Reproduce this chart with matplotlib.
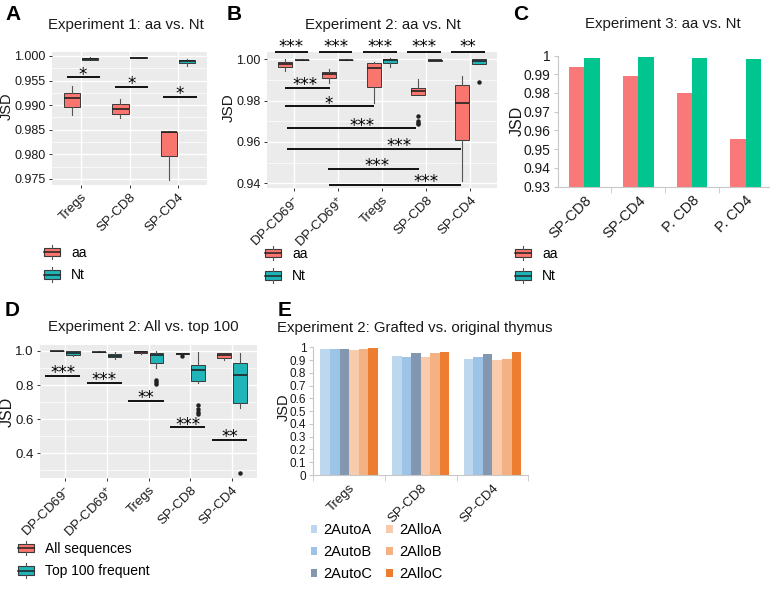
import matplotlib
matplotlib.use('Agg')
import matplotlib.pyplot as plt
from matplotlib.patches import Rectangle, Patch
from matplotlib.lines import Line2D
from matplotlib.legend_handler import HandlerBase
import numpy as np

plt.rcParams['font.family'] = ['Liberation Sans', 'DejaVu Sans']
plt.rcParams['mathtext.fontset'] = 'custom'
plt.rcParams['mathtext.rm'] = 'Liberation Sans'
plt.rcParams['mathtext.it'] = 'Liberation Sans'

# ---------------- data ----------------
# Panel A  (box stats: whislo, q1, median, q3, whishi)
a_cats = ['Tregs', 'SP-CD8', 'SP-CD4']
a_aa = [[0.9880, 0.98963, 0.99139, 0.99254, 0.9939],
        [0.98746, 0.98827, 0.98922, 0.99017, 0.99125],
        [0.97478, 0.97959, 0.98447, 0.98461, 0.98475]]
a_nt = [[0.9991, 0.9992, 0.9994, 0.9996, 0.9997],
        [0.9995, 0.99955, 0.9996, 0.99975, 0.9998],
        [0.99803, 0.99851, 0.99891, 0.99919, 0.9994]]
a_sig_y = [0.99566, 0.99376, 0.99166]
a_sig_lab = ['*', '*', '*']
a_yticks = [0.975, 0.980, 0.985, 0.990, 0.995, 1.000]
a_yticklabels = ['0.975', '0.980', '0.985', '0.990', '0.955', '1.000']

# Panel B
b_cats = ['DP-CD69$^{-}$', 'DP-CD69$^{+}$', 'Tregs', 'SP-CD8', 'SP-CD4']
b_aa = [[0.99452, 0.99613, 0.99758, 0.99887, 1.0003],
        [0.98855, 0.99097, 0.99274, 0.99371, 0.99532],
        [0.97871, 0.98677, 0.99565, 0.99806, 0.99887],
        [0.98258, 0.98258, 0.98452, 0.98597, 0.99065],
        [0.94113, 0.96097, 0.97871, 0.98758, 0.99194]]
b_aa_fliers = [[], [], [], [0.9726, 0.9703, 0.9694, 0.9687], []]
b_nt = [[0.9995, 0.99955, 0.9997, 0.99985, 0.9999],
        [0.9997, 0.99975, 0.9998, 0.99985, 0.9999],
        [0.99613, 0.99823, 0.99952, 1.0002, 1.0005],
        [0.9991, 0.9993, 0.9995, 0.9996, 0.9997],
        [0.99758, 0.9979, 0.99903, 1.0000, 1.0002]]
b_nt_fliers = [[], [], [], [], [0.98887]]
b_top_sig_y = 1.0034
b_top_sig_lab = ['***', '***', '***', '***', '**']
b_pair_y = [0.98597, 0.97726, 0.96661, 0.95677, 0.94710, 0.9392]
b_pair_x = [(0.81, 1.82), (0.81, 2.83), (0.86, 3.77), (0.86, 4.79), (1.78, 3.84), (1.80, 4.79)]
b_pair_star_x = [1.27, 1.80, 2.55, 3.38, 2.89, 3.99]
b_pair_lab = ['***', '*', '***', '***', '***', '***']
b_yticks = [0.94, 0.96, 0.98, 1.00]

# Panel C
c_cats = ['SP-CD8', 'SP-CD4', 'P. CD8', 'P. CD4']
c_aa = [0.9939, 0.9891, 0.9800, 0.9552]
c_nt = [0.9988, 0.9993, 0.9984, 0.9979]
c_yticks = [0.93, 0.94, 0.95, 0.96, 0.97, 0.98, 0.99, 1.0]
c_yticklabels = ['0.93', '0.94', '0.95', '0.96', '0.97', '0.98', '0.99', '1']

# Panel D
d_cats = b_cats
d_all = [[0.9975, 0.998, 0.9985, 0.999, 0.9995],
         [0.995, 0.9955, 0.996, 0.9965, 0.997],
         [0.9807, 0.987, 0.994, 0.998, 1.0],
         [0.975, 0.9805, 0.985, 0.988, 0.990],
         [0.945, 0.961, 0.9766, 0.986, 0.990]]
d_all_fliers = [[], [], [], [0.968], []]
d_top = [[0.9727, 0.9786, 0.990, 0.999, 1.0],
         [0.953, 0.963, 0.9727, 0.9825, 0.992],
         [0.8986, 0.932, 0.9747, 0.990, 1.0],
         [0.811, 0.8265, 0.889, 0.918, 0.996],
         [0.665, 0.694, 0.858, 0.932, 0.986]]
d_top_fliers = [[], [], [0.830, 0.8187, 0.807], [0.684, 0.659, 0.645, 0.632], [0.287]]
d_sig_y = [0.854, 0.815, 0.708, 0.552, 0.480]
d_sig_lab = ['***', '***', '**', '***', '**']
d_yticks = [0.4, 0.6, 0.8, 1.0]

# Panel E
e_cats = ['Tregs', 'SP-CD8', 'SP-CD4']
e_series = ['2AutoA', '2AutoB', '2AutoC', '2AlloA', '2AlloB', '2AlloC']
e_autoA = [0.986, 0.932, 0.909]
e_autoB = [0.984, 0.927, 0.923]
e_autoC = [0.986, 0.955, 0.947]
e_alloA = [0.982, 0.927, 0.903]
e_alloB = [0.986, 0.955, 0.905]
e_alloC = [0.991, 0.962, 0.965]
e_yticks = [0, 0.1, 0.2, 0.3, 0.4, 0.5, 0.6, 0.7, 0.8, 0.9, 1.0]
e_yticklabels = ['0', '0.1', '0.2', '0.3', '0.4', '0.5', '0.6', '0.7', '0.8', '0.9', '1']

# ---------------- styling ----------------
RED = '#F8766D'
TEAL = '#1FB5B8'
C_RED = '#F9797A'
C_GREEN = '#00C58E'
E_COLORS = ['#BDD7EE', '#9DC3E6', '#8497B0', '#F8CBAD', '#F4B183', '#ED7D31']
TXT = '#1a1a1a'

W, H = 770, 594
fig = plt.figure(figsize=(W / 100, H / 100), dpi=100)


def add_ax(l, t, r, b):
    return fig.add_axes([l / W, 1 - b / H, (r - l) / W, (b - t) / H])


def fx(px):
    return px / W


def fy(py):
    return 1 - py / H


def gg_style(ax, xlim, ylim, yticks, yticklabels, yminor, ncat, catlabels, ysize=9.5):
    ax.set_facecolor('#EBEBEB')
    for s in ax.spines.values():
        s.set_visible(False)
    ax.set_xlim(*xlim)
    ax.set_ylim(*ylim)
    ax.set_yticks(yticks)
    ax.set_yticklabels(yticklabels)
    ax.set_yticks(yminor, minor=True)
    ax.set_xticks(np.arange(1, ncat + 1))
    ax.set_xticklabels(catlabels, rotation=45, ha='right', va='top', rotation_mode='anchor')
    ax.grid(which='major', color='white', lw=1.0)
    ax.grid(which='minor', axis='y', color='white', lw=0.5)
    ax.set_axisbelow(True)
    ax.tick_params(which='minor', length=0)
    ax.tick_params(which='major', length=2.5, width=0.7, color='#333333', labelsize=9.5,
                   labelcolor=TXT, pad=2)
    ax.tick_params(axis='y', which='major', labelsize=ysize)


def draw_boxes(ax, stats, fliers, positions, width, color):
    st = []
    for s, f in zip(stats, fliers):
        st.append(dict(whislo=s[0], q1=s[1], med=s[2], q3=s[3], whishi=s[4], fliers=f))
    ax.bxp(st, positions=positions, widths=width, patch_artist=True, showcaps=False,
           boxprops=dict(facecolor=color, edgecolor='#3a3a3a', lw=0.7),
           medianprops=dict(color='#222222', lw=1.2),
           whiskerprops=dict(color='#555555', lw=0.8),
           flierprops=dict(marker='o', markersize=2.2, markerfacecolor='#222222',
                           markeredgecolor='#222222'),
           manage_ticks=False)


def sig(ax, x0, x1, y, lab, xs=None, clip=True, off=-4.5):
    ax.plot([x0, x1], [y, y], color='black', lw=1.3, clip_on=clip, solid_capstyle='butt')
    if xs is None:
        xs = (x0 + x1) / 2
    ax.annotate(lab, (xs, y), xytext=(0, off), textcoords='offset points', ha='center',
                va='bottom', fontsize=12, color='black', annotation_clip=False,
                family='DejaVu Sans')


class BoxKey(HandlerBase):
    def create_artists(self, legend, orig_handle, xdescent, ydescent, width, height,
                       fontsize, trans):
        fc = orig_handle.get_facecolor()
        x0, y0 = -xdescent, -ydescent
        cx = x0 + width / 2
        box = Rectangle((x0, y0 + height * 0.2), width, height * 0.6, facecolor=fc,
                        edgecolor='#3a3a3a', lw=0.8, transform=trans)
        med = Line2D([x0, x0 + width], [y0 + height / 2] * 2, color='#222222', lw=1.1,
                     transform=trans)
        w1 = Line2D([cx, cx], [y0, y0 + height * 0.2], color='#555555', lw=0.8, transform=trans)
        w2 = Line2D([cx, cx], [y0 + height * 0.8, y0 + height], color='#555555', lw=0.8,
                    transform=trans)
        return [box, med, w1, w2]


def box_legend(labels, colors, x, y, fs=10):
    handles = [Patch(facecolor=c) for c in colors]
    fig.legend(handles, labels, loc='upper left', bbox_to_anchor=(fx(x), fy(y)),
               bbox_transform=fig.transFigure, frameon=False, fontsize=fs,
               handler_map={Patch: BoxKey()}, handlelength=1.15, handleheight=1.2,
               labelspacing=0.55, handletextpad=0.8, borderpad=0, borderaxespad=0)


# ---------------- Panel A ----------------
axA = add_ax(52, 52, 207, 185)
gg_style(axA, (0.4, 3.6), (0.97378, 1.0008), a_yticks, a_yticklabels,
         [0.9775, 0.9825, 0.9875, 0.9925, 0.9975], 3, a_cats, ysize=9)
xA = np.arange(1, 4)
draw_boxes(axA, a_aa, [[]] * 3, xA - 0.1875, 0.34, RED)
draw_boxes(axA, a_nt, [[]] * 3, xA + 0.1875, 0.34, TEAL)
for i in range(3):
    sig(axA, xA[i] - 0.3, xA[i] + 0.39, a_sig_y[i], a_sig_lab[i], xs=xA[i] + 0.04)
axA.set_ylabel('JSD', fontsize=10.5, color=TXT)
axA.yaxis.set_label_coords((14 - 52) / 155, 0.59)

# ---------------- Panel B ----------------
axB = add_ax(267, 52, 497, 188)
gg_style(axB, (0.4, 5.6), (0.93773, 1.0035), b_yticks, ['0.94', '0.96', '0.98', '1.00'],
         [0.95, 0.97, 0.99], 5, b_cats, ysize=9)
xB = np.arange(1, 6)
draw_boxes(axB, b_aa, b_aa_fliers, xB - 0.19, 0.32, RED)
draw_boxes(axB, b_nt, b_nt_fliers, xB + 0.19, 0.32, TEAL)
for i in range(5):
    sig(axB, xB[i] - 0.43, xB[i] + 0.33, b_top_sig_y, b_top_sig_lab[i], xs=xB[i] - 0.05,
        clip=False, off=-2.5)
for (x0, x1), y, sx, lab in zip(b_pair_x, b_pair_y, b_pair_star_x, b_pair_lab):
    sig(axB, x0, x1, y, lab, xs=sx)
axB.set_ylabel('JSD', fontsize=11, color=TXT)
axB.yaxis.set_label_coords((236 - 267) / 230, 0.59)

# ---------------- Panel C ----------------
axC = add_ax(557.5, 55.5, 772.6, 186.7)
xC = np.arange(1, 5)
axC.bar(xC - 0.143, c_aa, width=0.286, color=C_RED)
axC.bar(xC + 0.143, c_nt, width=0.286, color=C_GREEN)
axC.set_xlim(0.5, 4.5)
axC.set_ylim(0.93, 1.0)
axC.set_yticks(c_yticks)
axC.set_yticklabels(c_yticklabels)
axC.set_xticks(xC)
axC.set_xticklabels(c_cats, rotation=45, ha='right', va='top', rotation_mode='anchor')
axC.set_xticks(np.arange(1.5, 4.5, 1), minor=True)
for s in ['top', 'right']:
    axC.spines[s].set_visible(False)
for s in ['left', 'bottom']:
    axC.spines[s].set_color('#C8C8C8')
    axC.spines[s].set_linewidth(0.8)
axC.tick_params(axis='x', which='major', length=0, labelsize=10.5, labelcolor=TXT, pad=5)
axC.tick_params(axis='x', which='minor', length=4, color='#C8C8C8')
axC.tick_params(axis='y', length=3, color='#C8C8C8', labelsize=10, labelcolor=TXT, pad=2)
axC.set_ylabel('JSD', fontsize=11.5, color=TXT)
axC.yaxis.set_label_coords((525 - 557.5) / 215, 0.5)

# ---------------- Panel D ----------------
axD = add_ax(40, 345, 257, 478)
gg_style(axD, (0.4, 5.6), (0.256, 1.035), d_yticks, ['0.4', '0.6', '0.8', '1.0'],
         [0.3, 0.5, 0.7, 0.9], 5, d_cats)
xD = np.arange(1, 6)
draw_boxes(axD, d_all, d_all_fliers, xD - 0.19, 0.32, RED)
draw_boxes(axD, d_top, d_top_fliers, xD + 0.19, 0.32, TEAL)
for i in range(5):
    sig(axD, xD[i] - 0.48, xD[i] + 0.36, d_sig_y[i], d_sig_lab[i], xs=xD[i] - 0.06)
axD.set_ylabel('JSD', fontsize=11.5, color=TXT)
axD.yaxis.set_label_coords((15 - 40) / 217, 0.5)

# ---------------- Panel E ----------------
axE = add_ax(313.3, 347.3, 528.3, 475)
xE = np.arange(1, 4)
e_vals = [e_autoA, e_autoB, e_autoC, e_alloA, e_alloB, e_alloC]
bw = 0.8 / 6
for i, (vals, col, name) in enumerate(zip(e_vals, E_COLORS, e_series)):
    axE.bar(xE + (i - 2.5) * bw, vals, width=bw, color=col, label=name)
axE.set_xlim(0.5, 3.5)
axE.set_ylim(0, 1.0)
axE.set_yticks(e_yticks)
axE.set_yticklabels(e_yticklabels)
axE.set_xticks(xE)
axE.set_xticklabels(e_cats, rotation=45, ha='right', va='top', rotation_mode='anchor')
axE.set_xticks(np.arange(0.5, 4.0, 1), minor=True)
for s in ['top', 'right']:
    axE.spines[s].set_visible(False)
for s in ['left', 'bottom']:
    axE.spines[s].set_color('#C8C8C8')
    axE.spines[s].set_linewidth(0.8)
axE.tick_params(axis='x', which='major', length=0, labelsize=9.5, labelcolor=TXT, pad=5)
axE.tick_params(axis='x', which='minor', length=4, color='#C8C8C8')
axE.tick_params(axis='y', length=3, color='#C8C8C8', labelsize=8.5, labelcolor=TXT, pad=2)
axE.set_ylabel('JSD', fontsize=10.5, color=TXT)
axE.yaxis.set_label_coords((291 - 313.3) / 215, 0.53)
hE, lE = axE.get_legend_handles_labels()
fig.legend(hE, lE, loc='upper left', bbox_to_anchor=(fx(311), fy(523)),
           bbox_transform=fig.transFigure, ncol=2, frameon=False, fontsize=10.5,
           handlelength=0.42, handleheight=0.42, handletextpad=0.45, columnspacing=0.95,
           labelspacing=0.55, borderpad=0, borderaxespad=0)

# ---------------- legends A-D ----------------
box_legend(['aa', 'Nt'], [RED, TEAL], 44, 245)
box_legend(['aa', 'Nt'], [RED, TEAL], 265, 246)
box_legend(['aa', 'Nt'], [RED, TEAL], 515, 246)
box_legend(['All sequences', 'Top 100 frequent'], [RED, TEAL], 18, 541)

# ---------------- titles and panel letters ----------------
fig.text(fx(126), fy(25), 'Experiment 1: aa vs. Nt', ha='center', va='center', fontsize=10.8,
         color=TXT)
fig.text(fx(383), fy(25), 'Experiment 2: aa vs. Nt', ha='center', va='center', fontsize=10.8,
         color=TXT)
fig.text(fx(663), fy(24), 'Experiment 3: aa vs. Nt', ha='center', va='center', fontsize=10.8,
         color=TXT)
fig.text(fx(143), fy(327), 'Experiment 2: All vs. top 100', ha='center', va='center',
         fontsize=10.8, color=TXT)
fig.text(fx(277), fy(328), 'Experiment 2: Grafted vs. original thymus', ha='left',
         va='center', fontsize=10.8, color=TXT)
for lab, x, y in [('A', 5, 14), ('B', 227, 14), ('C', 513, 14), ('D', 5, 311), ('E', 278, 310)]:
    fig.text(fx(x), fy(y), lab, ha='left', va='center', fontsize=15, fontweight='bold',
             color='black')

fig.savefig('out.png', dpi=100)
